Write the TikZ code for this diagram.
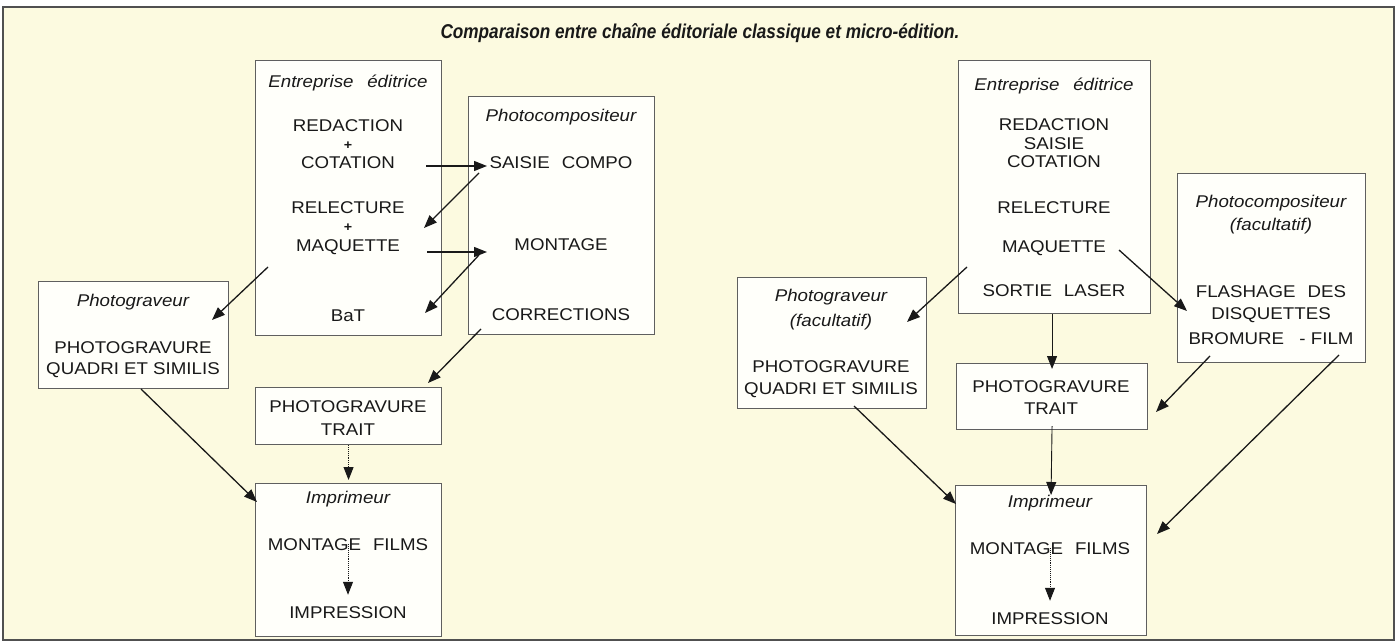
\documentclass[tikz,border=0pt]{standalone}
\usepackage{fontspec}
\setmainfont{Liberation Sans}[FakeStretch=1.1]
\newfontfamily\titlefont{Liberation Sans}[FakeStretch=0.86]
\usetikzlibrary{arrows.meta}
\definecolor{bg}{RGB}{252,250,224}
\definecolor{boxfill}{RGB}{255,255,250}
\definecolor{ln}{RGB}{95,95,95}
\definecolor{ink}{RGB}{25,25,25}
\definecolor{framec}{RGB}{80,80,80}
\begin{document}
\begin{tikzpicture}[x=1pt,y=-1pt,
  box/.style={draw=ln, line width=1.1pt, fill=boxfill, inner sep=0pt, anchor=north west},
  txt/.style={text=ink, inner sep=0pt, font=\fontsize{17}{20}\selectfont},
  lab/.style={text=ink, inner sep=0pt, font=\fontsize{17}{20}\selectfont\itshape},
  pl/.style={text=ink, inner sep=0pt, font=\fontsize{13}{14}\selectfont\bfseries},
  arr/.style={draw=ink, line width=1.3pt, -{Triangle[length=13pt,width=10pt]}},
  darr/.style={draw=ink, line width=0.9pt, densely dotted, -{Triangle[length=13pt,width=10pt]}}
]
\useasboundingbox (0,0) rectangle (1400,644);
\fill[white] (0,0) rectangle (1400,644);
\draw[draw=framec, line width=2.4pt, fill=bg] (3,7) rectangle (1394,640);

\node[text=ink, inner sep=0pt, font=\titlefont\fontsize{20}{24}\selectfont\bfseries\itshape] (title) at (700,33) {Comparaison entre chaîne éditoriale classique et micro-édition.};

% ---------------- left: classic chain ----------------
\node[box, minimum width=186pt, minimum height=275pt] (E1) at (255,60) {};
\node[box, minimum width=186pt, minimum height=238pt] (P1) at (468,96) {};
\node[box, minimum width=190pt, minimum height=107pt] (G1) at (38,281) {};
\node[box, minimum width=186pt, minimum height=57pt] (T1) at (255,387) {};
\node[box, minimum width=186pt, minimum height=153pt] (I1) at (255,483) {};

\node[lab] (e1t) at (348,83) {Entreprise\hspace{0.5em} éditrice};
\node[txt] (e1a) at (348,126) {REDACTION};
\node[pl]  (e1p1) at (348,146) {+};
\node[txt] (e1b) at (348,163) {COTATION};
\node[txt] (e1c) at (348,208) {RELECTURE};
\node[pl]  (e1p2) at (348,228) {+};
\node[txt] (e1d) at (348,247) {MAQUETTE};
\node[txt] (e1e) at (348,316) {BaT};

\node[lab] (p1t) at (561,117) {Photocompositeur};
\node[txt] (p1a) at (561,163) {SAISIE\hspace{0.4em} COMPO};
\node[txt] (p1b) at (561,245) {MONTAGE};
\node[txt] (p1c) at (561,315) {CORRECTIONS};

\node[lab] (g1t) at (133,302) {Photograveur};
\node[txt] (g1a) at (133,348) {PHOTOGRAVURE};
\node[txt] (g1b) at (133,370) {QUADRI ET SIMILIS};

\node[txt] (t1a) at (348,407) {PHOTOGRAVURE};
\node[txt] (t1b) at (348,430) {TRAIT};

\node[lab] (i1t) at (348,499) {Imprimeur};
\node[txt] (i1a) at (348,545) {MONTAGE\hspace{0.4em} FILMS};
\node[txt] (i1b) at (348,613) {IMPRESSION};

\coordinate (l1s) at (426,166); \coordinate (l1e) at (487,166);
\coordinate (l2s) at (479,173); \coordinate (l2e) at (424,228);
\coordinate (l3s) at (427,252); \coordinate (l3e) at (487,252);
\coordinate (l4s) at (479,255); \coordinate (l4e) at (425,313);
\coordinate (l5s) at (268,267); \coordinate (l5e) at (212,320);
\coordinate (l6s) at (481,329); \coordinate (l6e) at (428,383);
\coordinate (l8s) at (141,389); \coordinate (l8e) at (257,502);

\draw[arr] (l1s) -- (l1e);
\draw[arr] (l2s) -- (l2e);
\draw[arr] (l3s) -- (l3e);
\draw[arr] (l4s) -- (l4e);
\draw[arr] (l5s) -- (l5e);
\draw[arr] (l6s) -- (l6e);
\draw[darr] (T1.south) -- ([yshift=3pt]I1.north);
\draw[arr] (l8s) -- (l8e);
\draw[darr] ([yshift=7pt]i1a.south) -- ([yshift=12pt]i1b.north);

% ---------------- right: desktop publishing ----------------
\node[box, minimum width=192pt, minimum height=253pt] (E2) at (958,60) {};
\node[box, minimum width=188pt, minimum height=189pt] (P2) at (1177,173) {};
\node[box, minimum width=189pt, minimum height=131pt] (G2) at (737,277) {};
\node[box, minimum width=191pt, minimum height=66pt] (T2) at (956,363) {};
\node[box, minimum width=191pt, minimum height=150pt] (I2) at (955,485) {};

\node[lab] (e2t) at (1054,86) {Entreprise\hspace{0.5em} éditrice};
\node[txt] (e2a) at (1054,125) {REDACTION};
\node[txt] (e2b) at (1054,144) {SAISIE};
\node[txt] (e2c) at (1054,162) {COTATION};
\node[txt] (e2d) at (1054,208) {RELECTURE};
\node[txt] (e2e) at (1054,248) {MAQUETTE};
\node[txt] (e2f) at (1054,291) {SORTIE\hspace{0.4em} LASER};

\node[lab] (p2t) at (1271,203) {Photocompositeur};
\node[lab] (p2u) at (1271,226) {(facultatif)};
\node[txt] (p2a) at (1271,292) {FLASHAGE\hspace{0.4em} DES};
\node[txt] (p2b) at (1271,315) {DISQUETTES};
\node[txt] (p2c) at (1271,339) {BROMURE\hspace{0.6em} - FILM};

\node[lab] (g2t) at (831,297) {Photograveur};
\node[lab] (g2u) at (831,322) {(facultatif)};
\node[txt] (g2a) at (831,367) {PHOTOGRAVURE};
\node[txt] (g2b) at (831,390) {QUADRI ET SIMILIS};

\node[txt] (t2a) at (1051,387) {PHOTOGRAVURE};
\node[txt] (t2b) at (1051,409) {TRAIT};

\node[lab] (i2t) at (1050,503) {Imprimeur};
\node[txt] (i2a) at (1050,549) {MONTAGE\hspace{0.4em} FILMS};
\node[txt] (i2b) at (1050,619) {IMPRESSION};

\coordinate (r1s) at (967,267);  \coordinate (r1e) at (907,322);
\coordinate (r2s) at (1119,250); \coordinate (r2e) at (1187,311);
\coordinate (r4s) at (1210,356); \coordinate (r4e) at (1156,412);
\coordinate (r5s) at (1339,355); \coordinate (r5e) at (1157,534);
\coordinate (r7s) at (854,406);  \coordinate (r7e) at (956,504);

\draw[arr] (r1s) -- (r1e);
\draw[arr] (r2s) -- (r2e);
\draw[arr, line width=0.9pt] (E2.south -| T2.north) -- ([yshift=-6pt]T2.north);
\draw[arr] (r4s) -- (r4e);
\draw[arr] (r5s) -- (r5e);
\draw[arr, line width=0.9pt] ([yshift=4pt]T2.south) -- ([yshift=-10pt]I2.north);
\draw[arr] (r7s) -- (r7e);
\draw[darr] ([yshift=7pt]i2a.south) -- ([yshift=12pt]i2b.north);
\end{tikzpicture}
\end{document}
